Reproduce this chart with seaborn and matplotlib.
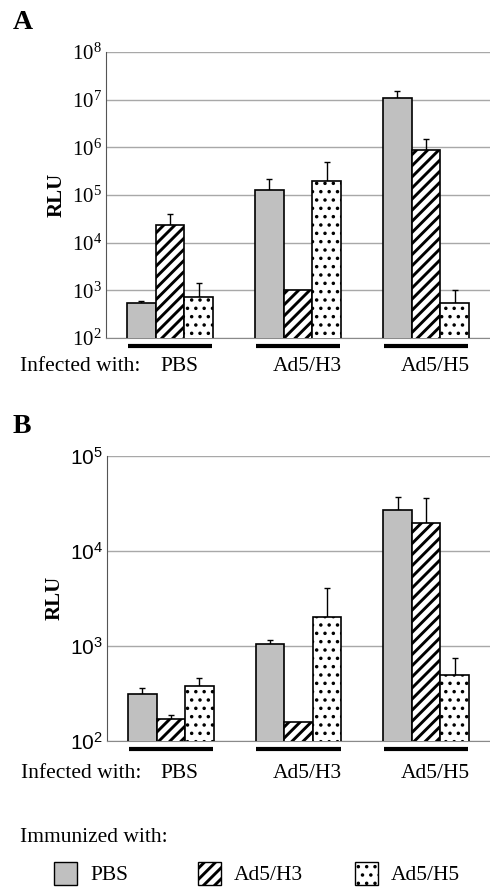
import pandas as pd
import matplotlib
matplotlib.use("Agg")
import matplotlib.pyplot as plt
import matplotlib.transforms as mtransforms
from matplotlib.patches import Rectangle
from matplotlib.ticker import FixedLocator, NullLocator
import seaborn as sns

INFECTED = ["PBS", "Ad5/H3", "Ad5/H5"]
IMMUNIZED = ["PBS", "Ad5/H3", "Ad5/H5"]

# panel A, one list per immunized group, values per infected group
A_PBS = [540, 130000, 1.1e7]
A_H3 = [23500, 1000, 8.7e5]
A_H5 = [740, 200000, 550]
A_PBS_TOP = [590, 220000, 1.55e7]
A_H3_TOP = [40000, None, 1.48e6]
A_H5_TOP = [1400, 490000, 1000]

# panel B
B_PBS = [307, 1050, 27000]
B_H3 = [170, 157, 19500]
B_H5 = [377, 2000, 490]
B_PBS_TOP = [356, 1140, 36700]
B_H3_TOP = [187, None, 35900]
B_H5_TOP = [460, 4100, 740]

A_DECADES = [2, 3, 4, 5, 6, 7, 8]
B_DECADES = [2, 3, 4, 5]

GRAY = "#c0c0c0"
# facecolor, hatch, hatch line width
STYLE = {"PBS": (GRAY, "", 1.0), "Ad5/H3": ("white", "///", 2.1),
         "Ad5/H5": ("white", "..", 1.3)}

SERIF = "Liberation Serif"
SANS = "Liberation Sans"

plt.rcParams["hatch.linewidth"] = 2.0
plt.rcParams["mathtext.default"] = "regular"


def make_df(means, tops):
    rows = []
    for imm, vals, errs in zip(IMMUNIZED, means, tops):
        for inf, v, t in zip(INFECTED, vals, errs):
            rows.append({"infected": inf, "immunized": imm, "rlu": v, "top": t})
    return pd.DataFrame(rows)


def style_patch(p, imm):
    fc, hatch, hlw = STYLE[imm]
    p.set_facecolor(fc)
    p.set_hatch(hatch)
    p.set_edgecolor("black")
    if hasattr(p, "set_hatch_linewidth"):
        p.set_hatch_linewidth(hlw)


def draw_panel(ax, df, decades, tick_font, label_y):
    sns.barplot(data=df, x="infected", y="rlu", hue="immunized",
                order=INFECTED, hue_order=IMMUNIZED, width=0.67, gap=0,
                errorbar=None, legend=False, ax=ax,
                palette=[STYLE[k][0] for k in IMMUNIZED])
    ax.set_yscale("log")
    ax.set_ylim(10 ** decades[0], 10 ** decades[-1])
    ax.set_xlim(-0.5, 2.5)

    for imm, cont in zip(IMMUNIZED, ax.containers):
        sub = df[df["immunized"] == imm].set_index("infected")
        for inf, bar in zip(INFECTED, cont):
            style_patch(bar, imm)
            bar.set_linewidth(1.2)
            bar.set_zorder(3)
            top = sub.loc[inf, "top"]
            if pd.notna(top):
                xc = bar.get_x() + bar.get_width() / 2
                h = sub.loc[inf, "rlu"]
                ax.errorbar([xc], [h], yerr=[[0], [top - h]], fmt="none",
                            ecolor="black", elinewidth=1.0, capsize=2.5,
                            capthick=1.0, zorder=2)

    ax.yaxis.set_major_locator(FixedLocator([10 ** d for d in decades]))
    ax.yaxis.set_minor_locator(NullLocator())
    ax.set_yticklabels([r"$\mathregular{10^{%d}}$" % d for d in decades],
                       fontfamily=tick_font, fontsize=15)
    ax.tick_params(axis="y", length=0, pad=3)
    ax.set_xticks([])
    ax.set_xlabel("")
    ax.set_ylabel("RLU", fontfamily=SERIF, fontweight="bold", fontsize=15,
                  labelpad=4)
    ax.grid(axis="y", color="#a8a8a8", linewidth=1.0, zorder=0)
    ax.set_axisbelow(True)
    for side in ["top", "right"]:
        ax.spines[side].set_visible(False)
    ax.spines["left"].set_color("#555555")
    ax.spines["bottom"].set_color("#8a8a8a")

    trans = mtransforms.blended_transform_factory(ax.transData, ax.transAxes)
    for i, name in enumerate(INFECTED):
        ax.plot([i - 0.33, i + 0.33], [-0.029, -0.029], color="black",
                linewidth=3, transform=trans, clip_on=False,
                solid_capstyle="butt")
        ax.text(i + 0.07, label_y, name, transform=trans, ha="center",
                va="center", fontfamily=SERIF, fontsize=15.5)
    ax.text(-0.224, label_y, "Infected with:", transform=ax.transAxes,
            ha="left", va="center", fontfamily=SERIF, fontsize=15.5)


df_a = make_df([A_PBS, A_H3, A_H5], [A_PBS_TOP, A_H3_TOP, A_H5_TOP])
df_b = make_df([B_PBS, B_H3, B_H5], [B_PBS_TOP, B_H3_TOP, B_H5_TOP])

fig = plt.figure(figsize=(4.9, 8.88), dpi=100)
ax_a = fig.add_axes([0.2163, 0.6194, 0.7837, 0.322])
ax_b = fig.add_axes([0.2184, 0.1659, 0.7816, 0.3206])

draw_panel(ax_a, df_a, A_DECADES, SERIF, -0.1)
draw_panel(ax_b, df_b, B_DECADES, SANS, -0.116)

fig.text(13 / 490, 1 - 29 / 888, "A", fontfamily=SERIF, fontweight="bold",
         fontsize=20, va="baseline")
fig.text(13 / 490, 1 - 433 / 888, "B", fontfamily=SERIF, fontweight="bold",
         fontsize=20, va="baseline")

# legend
fig.text(20 / 490, 1 - 837 / 888, "Immunized with:", fontfamily=SERIF,
         fontsize=15.5, va="center", ha="left")
box_x = [54, 198, 355]
for imm, bx in zip(IMMUNIZED, box_x):
    box = Rectangle((bx / 490, 1 - 885 / 888), 23 / 490, 23 / 888,
                    transform=fig.transFigure, linewidth=1.0)
    style_patch(box, imm)
    fig.add_artist(box)
    fig.text((bx + 36) / 490, 1 - 875 / 888, imm, fontfamily=SERIF,
             fontsize=15.5, va="center", ha="left")

fig.savefig("out.png", dpi=100)
